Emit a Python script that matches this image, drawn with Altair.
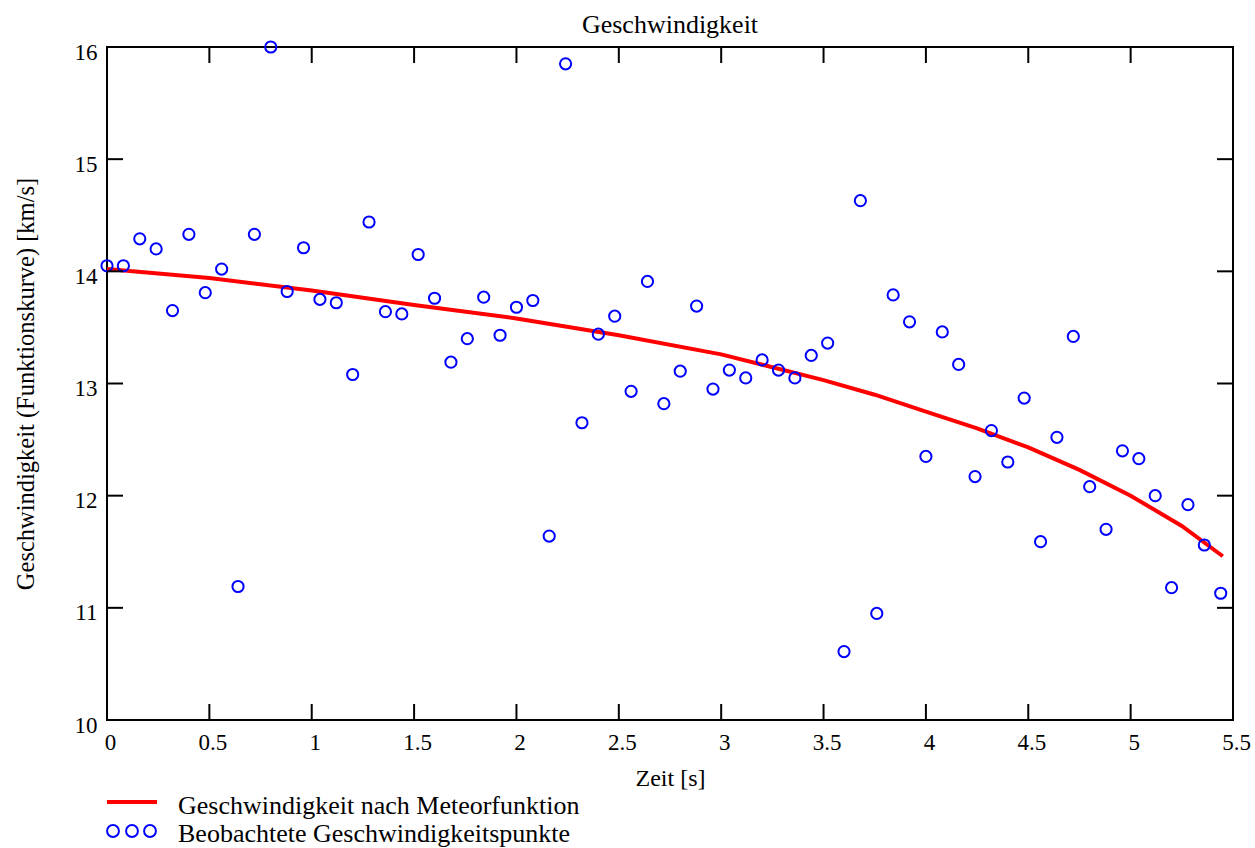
import altair as alt
import pandas as pd

FONT = "Liberation Serif"

# Observed speed points
t_obs = [0.00, 0.08, 0.16, 0.24, 0.32, 0.40, 0.48, 0.56, 0.64, 0.72,
         0.80, 0.88, 0.96, 1.04, 1.12, 1.20, 1.28, 1.36, 1.44, 1.52,
         1.60, 1.68, 1.76, 1.84, 1.92, 2.00, 2.08, 2.16, 2.24, 2.32,
         2.40, 2.48, 2.56, 2.64, 2.72, 2.80, 2.88, 2.96, 3.04, 3.12,
         3.20, 3.28, 3.36, 3.44, 3.52, 3.60, 3.68, 3.76, 3.84, 3.92,
         4.00, 4.08, 4.16, 4.24, 4.32, 4.40, 4.48, 4.56, 4.64, 4.72,
         4.80, 4.88, 4.96, 5.04, 5.12, 5.20, 5.28, 5.36, 5.44]
v_obs = [14.05, 14.05, 14.29, 14.20, 13.65, 14.33, 13.81, 14.02, 11.19, 14.33,
         16.00, 13.82, 14.21, 13.75, 13.72, 13.08, 14.44, 13.64, 13.62, 14.15,
         13.76, 13.19, 13.40, 13.77, 13.43, 13.68, 13.74, 11.64, 15.85, 12.65,
         13.44, 13.60, 12.93, 13.91, 12.82, 13.11, 13.69, 12.95, 13.12, 13.05,
         13.21, 13.12, 13.05, 13.25, 13.36, 10.61, 14.63, 10.95, 13.79, 13.55,
         12.35, 13.46, 13.17, 12.17, 12.58, 12.30, 12.87, 11.59, 12.52, 13.42,
         12.08, 11.70, 12.40, 12.33, 12.00, 11.18, 11.92, 11.56, 11.13]

# Meteor function curve
t_fit = [0.0, 0.5, 1.0, 1.5, 2.0, 2.5, 3.0, 3.5, 3.75, 4.0, 4.25, 4.5, 4.75, 5.0, 5.25, 5.45]
v_fit = [14.02, 13.94, 13.83, 13.70, 13.58, 13.43, 13.26, 13.03, 12.90, 12.75, 12.60, 12.43, 12.23, 12.00, 11.73, 11.46]

x_ticks = [0, 0.5, 1, 1.5, 2, 2.5, 3, 3.5, 4, 4.5, 5, 5.5]
y_ticks = [10, 11, 12, 13, 14, 15, 16]

label_line = "Geschwindigkeit nach Meteorfunktion"
label_points = "Beobachtete Geschwindigkeitspunkte"

W, H = 1126, 673
TICK = 16

obs = pd.DataFrame({"t": t_obs, "v": v_obs})
fit = pd.DataFrame({"t": t_fit, "v": v_fit})
xt = pd.DataFrame({"t": x_ticks})
yt = pd.DataFrame({"v": y_ticks})
one = pd.DataFrame({"a": [0]})

x_scale = alt.Scale(domain=[0, 5.5], nice=False, zero=False)
y_scale = alt.Scale(domain=[10, 16], nice=False, zero=False)

x_enc = alt.X("t:Q", scale=x_scale, title="Zeit [s]",
              axis=alt.Axis(values=x_ticks, format="~g", ticks=False, tickSize=0,
                            domain=False, grid=False, labelPadding=11, labelOffset=3,
                            labelFlush=False, labelOverlap=False,
                            labelFontSize=23, labelFont=FONT, labelColor="black",
                            titleFontSize=24, titleFont=FONT, titleFontWeight="normal",
                            titleColor="black", titleBaseline="alphabetic", titleY=65))
y_enc = alt.Y("v:Q", scale=y_scale, title="Geschwindigkeit (Funktionskurve) [km/s]",
              axis=alt.Axis(values=y_ticks, format="~g", ticks=False, tickSize=0,
                            domain=False, grid=False, labelPadding=10, labelOffset=5,
                            labelFlush=False, labelOverlap=False,
                            labelFontSize=23, labelFont=FONT, labelColor="black",
                            labelBaseline="middle",
                            titleFontSize=24.5, titleFont=FONT, titleFontWeight="normal",
                            titleColor="black", titleBaseline="alphabetic", titleX=-74))

curve = alt.Chart(fit).mark_line(color="#ff0000", strokeWidth=4).encode(x=x_enc, y=y_enc)
points = alt.Chart(obs).mark_point(shape="circle", filled=False, color="#0000ff",
                                   size=125, strokeWidth=2, opacity=1).encode(x=x_enc, y=y_enc)

tick_style = dict(color="black", strokeWidth=2)
bottom_ticks = alt.Chart(xt).mark_rule(**tick_style).encode(
    x=x_enc, y=alt.value(H), y2=alt.value(H - TICK))
top_ticks = alt.Chart(xt).mark_rule(**tick_style).encode(
    x=x_enc, y=alt.value(0), y2=alt.value(TICK))
left_ticks = alt.Chart(yt).mark_rule(**tick_style).encode(
    y=y_enc, x=alt.value(0), x2=alt.value(TICK))
right_ticks = alt.Chart(yt).mark_rule(**tick_style).encode(
    y=y_enc, x=alt.value(W), x2=alt.value(W - TICK))

# Legend below the plot
leg_line = alt.Chart(one).mark_rule(color="#ff0000", strokeWidth=4).encode(
    x=alt.value(0), x2=alt.value(50), y=alt.value(755))
leg_text1 = alt.Chart(one).mark_text(align="left", baseline="alphabetic", font=FONT,
                                     fontSize=26, color="black").encode(
    x=alt.value(71), y=alt.value(767), text=alt.value(label_line))
leg_pts = [alt.Chart(one).mark_point(shape="circle", filled=False, color="#0000ff",
                                     size=140, strokeWidth=2, opacity=1).encode(
    x=alt.value(px), y=alt.value(784)) for px in (6, 25, 43)]
leg_text2 = alt.Chart(one).mark_text(align="left", baseline="alphabetic", font=FONT,
                                     fontSize=26, color="black").encode(
    x=alt.value(71), y=alt.value(795), text=alt.value(label_points))

chart = alt.layer(
    curve, points, bottom_ticks, top_ticks, left_ticks, right_ticks,
    leg_line, leg_text1, *leg_pts, leg_text2
).properties(
    width=W, height=H,
    title=alt.Title("Geschwindigkeit", fontSize=26, font=FONT, fontWeight="normal",
                    color="black", baseline="alphabetic", offset=14, dy=36,
                    anchor="middle", frame="group"),
    autosize=alt.AutoSizeParams(type="none"),
    padding={"left": 107, "top": 47, "right": 22, "bottom": 128},
).configure(font=FONT, background="white").configure_view(stroke="black", strokeWidth=2)

chart.save("out.html", embed_options={"renderer": "svg", "actions": False})
